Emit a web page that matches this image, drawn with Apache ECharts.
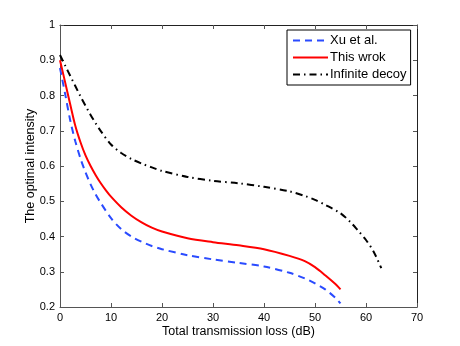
<!DOCTYPE html>
<html><head><meta charset="utf-8">
<script src="https://cdn.jsdelivr.net/npm/echarts@6/dist/echarts.min.js"></script>
<style>html,body{margin:0;padding:0;background:#fff}#c{width:460px;height:346px}</style>
</head><body><div id="c"></div>
<script>
const xuLoss = [0,1,2,3,4,5,6,7,8,10,12,14,16,18,20,25,30,35,40,45,48,50,52,54,55];
const xuVals = [0.878,0.805,0.73,0.67,0.622,0.582,0.548,0.519,0.495,0.452,0.421,0.40,0.385,0.373,0.364,0.347,0.335,0.325,0.315,0.297,0.281,0.267,0.25,0.226,0.21];
const thisLoss = [0,1,2,3,4,5,6,7,8,9,10,12,14,16,18,20,25,30,35,40,45,48,50,52,54,55];
const thisVals = [0.90,0.838,0.775,0.714,0.668,0.630,0.600,0.574,0.551,0.531,0.513,0.483,0.459,0.44,0.425,0.414,0.395,0.384,0.375,0.364,0.345,0.33,0.313,0.29,0.265,0.25];
const infLoss = [0,1,2,3,4,5,6,7,8,10,12,14,16,18,20,25,30,35,40,45,48,50,52,55,57,58.3,60,61.5,63];
const infVals = [0.915,0.885,0.856,0.827,0.798,0.771,0.745,0.721,0.699,0.661,0.637,0.62,0.607,0.596,0.586,0.569,0.558,0.551,0.541,0.528,0.515,0.504,0.49,0.466,0.44,0.419,0.39,0.357,0.31];
const seriesNames = ['Xu et al.','This wrok','Infinite decoy'];
const xTicks = {min:0,max:70,step:10};
const yTicks = {min:0.2,max:1,step:0.1};
const zip = (a,b)=>a.map((v,i)=>[v,b[i]]);

const font = 'Liberation Sans, Arial, sans-serif';
const chart = echarts.init(document.getElementById('c'), null, {renderer:'canvas'});
const axisCommon = {
  axisLine:{show:true,onZero:false,lineStyle:{color:'#555',width:1}},
  axisTick:{show:true,inside:true,length:4,lineStyle:{color:'#555'}},
  splitLine:{show:false}
};
chart.setOption({
  animation:false,
  backgroundColor:'#fff',
  grid:{left:60,right:43,top:25,bottom:39,outerBoundsMode:'none',containLabel:false},
  legend:{
    orient:'vertical',left:287,top:30,
    data:seriesNames,
    backgroundColor:'#fff',borderColor:'#000',borderWidth:1,
    padding:[4,4,4,5],itemGap:4,itemWidth:35,itemHeight:12,
    itemStyle:{opacity:0},
    textStyle:{fontFamily:font,fontSize:13,color:'#000',padding:[0,0,0,-3]}
  },
  xAxis:[
    Object.assign({type:'value',min:xTicks.min,max:xTicks.max,interval:xTicks.step,position:'bottom',
      name:'Total transmission loss (dB)',nameLocation:'middle',nameGap:18,nameMoveOverlap:false,
      nameTextStyle:{fontFamily:font,fontSize:12.5,color:'#000'},
      axisLabel:{fontFamily:font,fontSize:11,color:'#000',margin:5}},axisCommon),
    Object.assign({type:'value',min:xTicks.min,max:xTicks.max,interval:xTicks.step,position:'top',
      axisLabel:{show:false}},axisCommon,{axisLine:{show:true,onZero:false,lineStyle:{color:'#222',width:1}}})
  ],
  yAxis:[
    Object.assign({type:'value',min:yTicks.min,max:yTicks.max,interval:yTicks.step,position:'left',
      name:'The optimal intensity',nameLocation:'middle',nameGap:23,nameMoveOverlap:false,
      nameTextStyle:{fontFamily:font,fontSize:12.5,color:'#000'},
      axisLabel:{fontFamily:font,fontSize:11,color:'#000',margin:5,formatter:v=>String(+v.toFixed(1))}},axisCommon),
    Object.assign({type:'value',min:yTicks.min,max:yTicks.max,interval:yTicks.step,position:'right',
      axisLabel:{show:false}},axisCommon,{axisLine:{show:true,onZero:false,lineStyle:{color:'#222',width:1}}})
  ],
  series:[
    {name:seriesNames[0],type:'line',showSymbol:false,smooth:0.3,data:zip(xuLoss,xuVals),
      lineStyle:{color:'#2a4bff',width:2,type:[7,5]},itemStyle:{color:'#2a4bff'}},
    {name:seriesNames[1],type:'line',showSymbol:false,smooth:0.3,data:zip(thisLoss,thisVals),
      lineStyle:{color:'#ff0000',width:2,type:'solid'},itemStyle:{color:'#ff0000'}},
    {name:seriesNames[2],type:'line',showSymbol:false,smooth:0.3,data:zip(infLoss,infVals),
      lineStyle:{color:'#000',width:2,type:[7,4,1.5,4]},itemStyle:{color:'#000'}}
  ]
});
</script></body></html>
